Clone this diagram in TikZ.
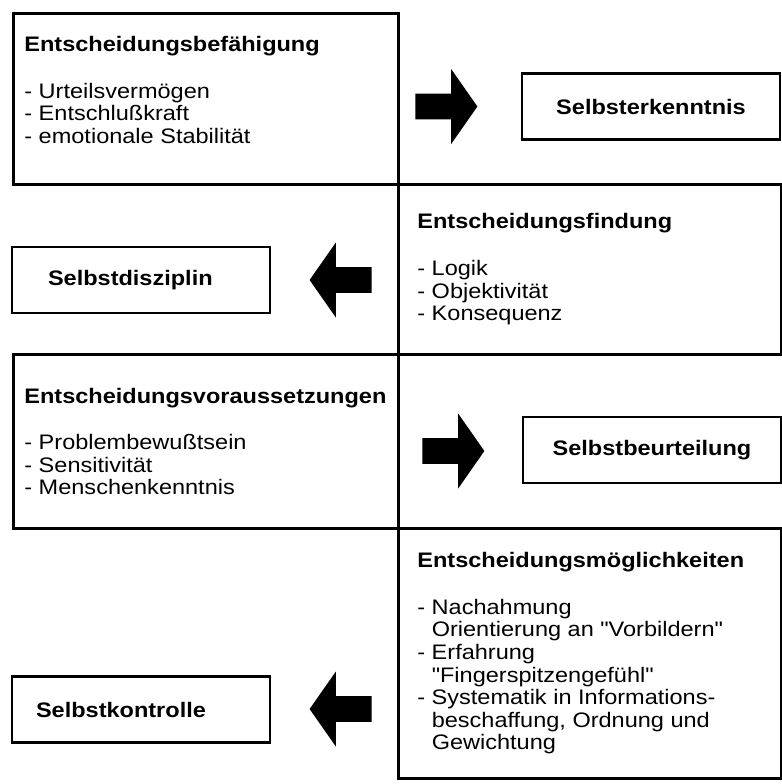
\documentclass[tikz,border=0pt]{standalone}
\usepackage{fontspec}
\setmainfont{Liberation Sans}[FakeStretch=1.12, Ligatures=TeXOff]
\usetikzlibrary{shapes.arrows,positioning}
\newcommand{\grund}{\fontsize{10.5}{11.3}\selectfont}
\newcommand{\einzug}{\hphantom{- }}

\begin{document}
\begin{tikzpicture}[x=0.5pt, y=-0.5pt, font=\grund,
        feld/.style={draw, line width=1.4pt, anchor=north west, inner sep=0pt},
        inhalt/.style={anchor=west, align=left, inner sep=0pt},
        selbst/.style={draw, line width=1.4pt, font=\grund\bfseries, minimum width=129pt, minimum height=33pt, inner sep=0pt},
        pfeil/.style={single arrow, fill=black, anchor=tail, inner xsep=0pt, inner ysep=6.25pt, minimum height=31pt, minimum width=0pt, single arrow head extend=12.25pt, single arrow tip angle=110}]
        \useasboundingbox (0,0) rectangle (782,784);
        % grosse Felder
        \foreach \name/\x/\y/\w/\h in {befaehigung/12/12/385/171, findung/397/183/383/170, voraussetzungen/12/353/385/174, moeglichkeiten/397/527/383/250}{\node[feld, minimum width=\w*0.5pt, minimum height=\h*0.5pt] (\name) at (\x,\y) {};}
        \node[inhalt, yshift=4.5pt] (t1) at ([xshift=6pt]befaehigung.west) {\textbf{Entscheidungsbefähigung}\\[12pt]- Urteilsvermögen\\- Entschlußkraft\\- emotionale Stabilität};
        \node[inhalt] (t2) at ([xshift=10pt]findung.west) {\textbf{Entscheidungsfindung}\\[12pt]- Logik\\- Objektivität\\- Konsequenz};
        \node[inhalt] (t3) at ([xshift=6pt]voraussetzungen.west) {\textbf{Entscheidungsvoraussetzungen}\\[12pt]- Problembewußtsein\\- Sensitivität\\- Menschenkenntnis};
        \node[inhalt] (t4) at ([xshift=10pt]moeglichkeiten.west) {\textbf{Entscheidungsmöglichkeiten}\\[12pt]- Nachahmung\\\einzug Orientierung an "Vorbildern"\\- Erfahrung\\\einzug "Fingerspitzengefühl"\\- Systematik in Informations-\\\einzug beschaffung, Ordnung und\\\einzug Gewichtung};
        % kleine Felder
        \node[selbst] (erkenntnis) at (651,106.5) {Selbsterkenntnis};
        \node[selbst, text width=93pt, align=left] (disziplin) at (141,280) {Selbstdisziplin};
        \node[selbst] (beurteilung) at (652,450) {Selbstbeurteilung};
        \node[selbst, text width=105pt, align=left] (kontrolle) at (141,709.5) {Selbstkontrolle};
        % Blockpfeile
        \node[pfeil] (p1) at (415,106.5) {};
        \node[pfeil, shape border rotate=180] (p2) at (372,280) {};
        \node[pfeil] (p3) at (422,451) {};
        \node[pfeil, shape border rotate=180] (p4) at (372,709) {};
\end{tikzpicture}
\end{document}
